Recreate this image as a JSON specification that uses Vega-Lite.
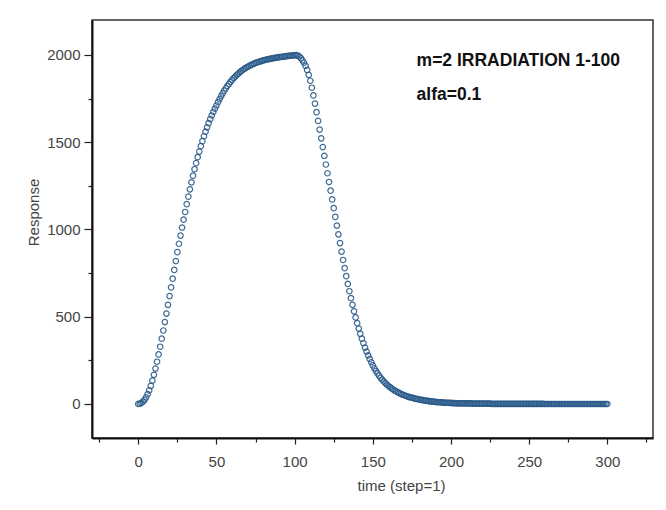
{
  "$schema": "https://vega.github.io/schema/vega-lite/v6.json",
  "width": 561,
  "height": 418,
  "autosize": "none",
  "padding": {"left": 92, "top": 20, "right": 13, "bottom": 72},
  "background": "white",
  "config": {
    "view": {"stroke": "#333333", "strokeWidth": 1.5},
    "font": "Liberation Sans",
    "axis": {
      "grid": false,
      "labelFont": "Liberation Sans",
      "labelFontSize": 15,
      "labelColor": "#444444",
      "titleFont": "Liberation Sans",
      "titleFontSize": 15,
      "titleFontWeight": "normal",
      "titleColor": "#444444",
      "tickColor": "#222222",
      "domainColor": "#111111",
      "domainWidth": 2,
      "tickWidth": 1.2
    }
  },
  "layer": [
    {
      "data": {
        "values": [
          {"t":0,"r":0},{"t":1,"r":2},{"t":2,"r":6},{"t":3,"r":13},{"t":4,"r":24},{"t":5,"r":38},{"t":6,"r":56},{"t":7,"r":78},{"t":8,"r":104},{"t":9,"r":134},
          {"t":10,"r":167},{"t":11,"r":203},{"t":12,"r":242},{"t":13,"r":284},{"t":14,"r":328},{"t":15,"r":374},{"t":16,"r":421},{"t":17,"r":469},{"t":18,"r":518},{"t":19,"r":568},
          {"t":20,"r":618},{"t":21,"r":668},{"t":22,"r":718},{"t":23,"r":768},{"t":24,"r":819},{"t":25,"r":870},{"t":26,"r":918},{"t":27,"r":965},{"t":28,"r":1011},{"t":29,"r":1056},
          {"t":30,"r":1100},{"t":31,"r":1145},{"t":32,"r":1188},{"t":33,"r":1230},{"t":34,"r":1270},{"t":35,"r":1308},{"t":36,"r":1345},{"t":37,"r":1380},{"t":38,"r":1414},{"t":39,"r":1446},
          {"t":40,"r":1477},{"t":41,"r":1506},{"t":42,"r":1534},{"t":43,"r":1560},{"t":44,"r":1585},{"t":45,"r":1609},{"t":46,"r":1632},{"t":47,"r":1653},{"t":48,"r":1673},{"t":49,"r":1692},
          {"t":50,"r":1710},{"t":51,"r":1729},{"t":52,"r":1747},{"t":53,"r":1764},{"t":54,"r":1780},{"t":55,"r":1795},{"t":56,"r":1809},{"t":57,"r":1822},{"t":58,"r":1834},{"t":59,"r":1846},
          {"t":60,"r":1857},{"t":61,"r":1867},{"t":62,"r":1876},{"t":63,"r":1885},{"t":64,"r":1893},{"t":65,"r":1901},{"t":66,"r":1908},{"t":67,"r":1915},{"t":68,"r":1921},{"t":69,"r":1927},
          {"t":70,"r":1932},{"t":71,"r":1937},{"t":72,"r":1942},{"t":73,"r":1946},{"t":74,"r":1950},{"t":75,"r":1954},{"t":76,"r":1957},{"t":77,"r":1960},{"t":78,"r":1963},{"t":79,"r":1966},
          {"t":80,"r":1969},{"t":81,"r":1971},{"t":82,"r":1973},{"t":83,"r":1975},{"t":84,"r":1977},{"t":85,"r":1979},{"t":86,"r":1981},{"t":87,"r":1982},{"t":88,"r":1984},{"t":89,"r":1985},
          {"t":90,"r":1987},{"t":91,"r":1988},{"t":92,"r":1989},{"t":93,"r":1990},{"t":94,"r":1992},{"t":95,"r":1993},{"t":96,"r":1994},{"t":97,"r":1995},{"t":98,"r":1996},{"t":99,"r":1997},
          {"t":100,"r":1998},{"t":101,"r":1999},{"t":102,"r":1996},{"t":103,"r":1990},{"t":104,"r":1981},{"t":105,"r":1969},{"t":106,"r":1955},{"t":107,"r":1937},{"t":108,"r":1914},{"t":109,"r":1886},
          {"t":110,"r":1852},{"t":111,"r":1812},{"t":112,"r":1768},{"t":113,"r":1721},{"t":114,"r":1672},{"t":115,"r":1622},{"t":116,"r":1572},{"t":117,"r":1522},{"t":118,"r":1472},{"t":119,"r":1422},
          {"t":120,"r":1372},{"t":121,"r":1322},{"t":122,"r":1272},{"t":123,"r":1222},{"t":124,"r":1172},{"t":125,"r":1122},{"t":126,"r":1072},{"t":127,"r":1022},{"t":128,"r":972},{"t":129,"r":922},
          {"t":130,"r":873},{"t":131,"r":825},{"t":132,"r":778},{"t":133,"r":732},{"t":134,"r":688},{"t":135,"r":646},{"t":136,"r":606},{"t":137,"r":568},{"t":138,"r":531},{"t":139,"r":496},
          {"t":140,"r":463},{"t":141,"r":432},{"t":142,"r":402},{"t":143,"r":374},{"t":144,"r":348},{"t":145,"r":323},{"t":146,"r":300},{"t":147,"r":278},{"t":148,"r":258},{"t":149,"r":239},
          {"t":150,"r":221},{"t":151,"r":204},{"t":152,"r":189},{"t":153,"r":175},{"t":154,"r":162},{"t":155,"r":150},{"t":156,"r":139},{"t":157,"r":129},{"t":158,"r":120},{"t":159,"r":111},
          {"t":160,"r":103},{"t":161,"r":96},{"t":162,"r":89},{"t":163,"r":83},{"t":164,"r":77},{"t":165,"r":72},{"t":166,"r":67},{"t":167,"r":62},{"t":168,"r":58},{"t":169,"r":54},
          {"t":170,"r":50},{"t":171,"r":47},{"t":172,"r":44},{"t":173,"r":41},{"t":174,"r":38},{"t":175,"r":36},{"t":176,"r":33},{"t":177,"r":31},{"t":178,"r":29},{"t":179,"r":27},
          {"t":180,"r":25},{"t":181,"r":23},{"t":182,"r":22},{"t":183,"r":20},{"t":184,"r":19},{"t":185,"r":18},{"t":186,"r":16},{"t":187,"r":15},{"t":188,"r":14},{"t":189,"r":13},
          {"t":190,"r":12},{"t":191,"r":11},{"t":192,"r":10},{"t":193,"r":10},{"t":194,"r":9},{"t":195,"r":8},{"t":196,"r":8},{"t":197,"r":7},{"t":198,"r":7},{"t":199,"r":6},
          {"t":200,"r":6},{"t":201,"r":5},{"t":202,"r":5},{"t":203,"r":5},{"t":204,"r":4},{"t":205,"r":4},{"t":206,"r":4},{"t":207,"r":4},{"t":208,"r":3},{"t":209,"r":3},
          {"t":210,"r":3},{"t":211,"r":3},{"t":212,"r":3},{"t":213,"r":3},{"t":214,"r":2},{"t":215,"r":2},{"t":216,"r":2},{"t":217,"r":2},{"t":218,"r":2},{"t":219,"r":2},
          {"t":220,"r":2},{"t":221,"r":2},{"t":222,"r":2},{"t":223,"r":2},{"t":224,"r":2},{"t":225,"r":2},{"t":226,"r":1},{"t":227,"r":1},{"t":228,"r":1},{"t":229,"r":1},
          {"t":230,"r":1},{"t":231,"r":1},{"t":232,"r":1},{"t":233,"r":1},{"t":234,"r":1},{"t":235,"r":1},{"t":236,"r":1},{"t":237,"r":1},{"t":238,"r":1},{"t":239,"r":1},
          {"t":240,"r":1},{"t":241,"r":1},{"t":242,"r":1},{"t":243,"r":1},{"t":244,"r":1},{"t":245,"r":1},{"t":246,"r":1},{"t":247,"r":1},{"t":248,"r":1},{"t":249,"r":1},
          {"t":250,"r":1},{"t":251,"r":1},{"t":252,"r":1},{"t":253,"r":1},{"t":254,"r":1},{"t":255,"r":1},{"t":256,"r":1},{"t":257,"r":1},{"t":258,"r":1},{"t":259,"r":1},
          {"t":260,"r":0},{"t":261,"r":0},{"t":262,"r":0},{"t":263,"r":0},{"t":264,"r":0},{"t":265,"r":0},{"t":266,"r":0},{"t":267,"r":0},{"t":268,"r":0},{"t":269,"r":0},
          {"t":270,"r":0},{"t":271,"r":0},{"t":272,"r":0},{"t":273,"r":0},{"t":274,"r":0},{"t":275,"r":0},{"t":276,"r":0},{"t":277,"r":0},{"t":278,"r":0},{"t":279,"r":0},
          {"t":280,"r":0},{"t":281,"r":0},{"t":282,"r":0},{"t":283,"r":0},{"t":284,"r":0},{"t":285,"r":0},{"t":286,"r":0},{"t":287,"r":0},{"t":288,"r":0},{"t":289,"r":0},
          {"t":290,"r":0},{"t":291,"r":0},{"t":292,"r":0},{"t":293,"r":0},{"t":294,"r":0},{"t":295,"r":0},{"t":296,"r":0},{"t":297,"r":0},{"t":298,"r":0},{"t":299,"r":0},
          {"t":300,"r":0}
        ]
      },
      "mark": {"type": "point", "shape": "circle", "filled": false, "size": 30, "strokeWidth": 1.2, "color": "#2a5a8a", "opacity": 0.9},
      "encoding": {
        "x": {
          "field": "t", "type": "quantitative",
          "scale": {"domain": [-29.6, 329.2], "nice": false, "zero": false},
          "axis": {
            "orient": "bottom",
            "values": [0, 50, 100, 150, 200, 250, 300],
            "format": "d",
            "tickSize": 6,
            "labelPadding": 10,
            "title": "time (step=1)",
            "titleX": 309,
            "titleY": 52,
            "titleAlign": "center",
            "titleBaseline": "alphabetic"
          }
        },
        "y": {
          "field": "r", "type": "quantitative",
          "scale": {"domain": [-195, 2200], "nice": false, "zero": false},
          "axis": {
            "orient": "left",
            "values": [0, 500, 1000, 1500, 2000],
            "format": "d",
            "tickSize": 8,
            "labelPadding": 4,
            "title": "Response",
            "titleX": -54,
            "titleY": 192,
            "titleAngle": 270,
            "titleAlign": "center",
            "titleBaseline": "alphabetic"
          }
        }
      }
    },
    {
      "data": {
        "values": [
          {"t": 178, "r": 1937, "label": "m=2 IRRADIATION 1-100"},
          {"t": 178, "r": 1742, "label": "alfa=0.1"}
        ]
      },
      "mark": {"type": "text", "align": "left", "baseline": "alphabetic", "font": "Liberation Sans", "fontSize": 17.5, "fontWeight": "bold", "color": "#111111"},
      "encoding": {
        "x": {
          "field": "t", "type": "quantitative",
          "scale": {"domain": [-29.6, 329.2], "nice": false, "zero": false},
          "axis": {"orient": "bottom", "values": [-25, 25, 75, 125, 175, 225, 275, 325], "labels": false, "domain": false, "tickSize": 4, "title": null}
        },
        "y": {
          "field": "r", "type": "quantitative",
          "scale": {"domain": [-195, 2200], "nice": false, "zero": false},
          "axis": {"orient": "left", "values": [250, 750, 1250, 1750], "labels": false, "domain": false, "tickSize": 4, "title": null}
        },
        "text": {"field": "label"}
      }
    }
  ],
  "resolve": {"axis": {"x": "independent", "y": "independent"}}
}
